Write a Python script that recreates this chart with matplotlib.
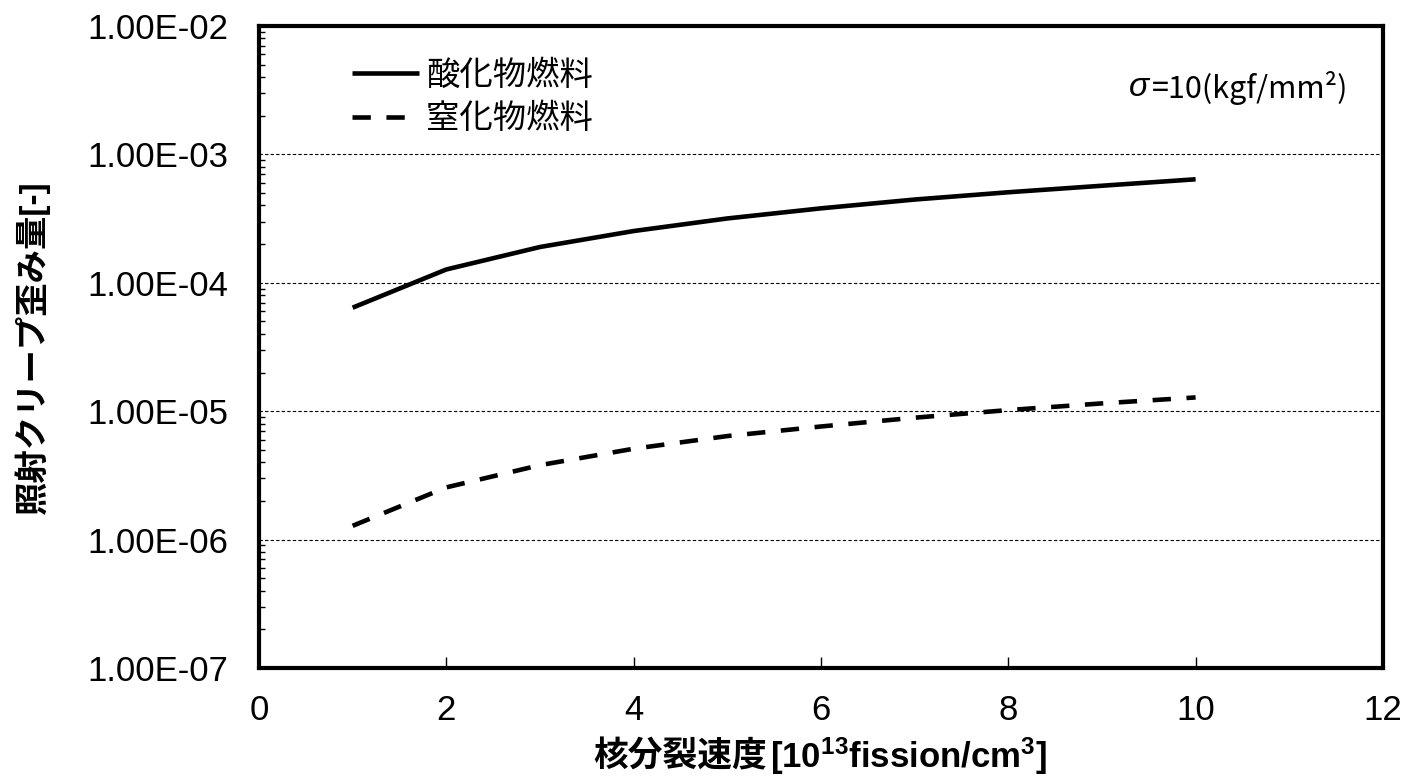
import numpy as np
import matplotlib.pyplot as plt
from matplotlib.ticker import FuncFormatter, LogLocator, MultipleLocator

plt.rcParams['font.family'] = ['Liberation Sans', 'Noto Sans CJK JP', 'DejaVu Sans']
plt.rcParams['mathtext.default'] = 'regular'

# data
fission_rate = [1, 2, 3, 4, 5, 6, 7, 8, 9, 10]
oxide_strain = [6.4e-5, 1.27e-4, 1.9e-4, 2.53e-4, 3.17e-4, 3.8e-4, 4.45e-4, 5.07e-4, 5.7e-4, 6.4e-4]
nitride_strain = [1.28e-6, 2.55e-6, 3.8e-6, 5.1e-6, 6.4e-6, 7.6e-6, 8.9e-6, 1.02e-5, 1.15e-5, 1.28e-5]
series_labels = ['酸化物燃料', '窒化物燃料']

fig = plt.figure(figsize=(14.09, 7.76), dpi=100)
ax = fig.add_axes([0.1838, 0.1392, 0.7977, 0.8273])

ax.plot(fission_rate, oxide_strain, color='black', lw=3.3, solid_capstyle='butt',
        label=series_labels[0])
ax.plot(fission_rate, nitride_strain, color='black', lw=3.3, dashes=(4.0, 3.4),
        dash_capstyle='butt', label=series_labels[1])

ax.set_yscale('log')
ax.set_xlim(0, 12)
ax.set_ylim(1e-7, 1e-2)
ax.xaxis.set_major_locator(MultipleLocator(2))
ax.yaxis.set_major_locator(LogLocator(base=10))
ax.yaxis.set_minor_locator(LogLocator(base=10, subs=np.arange(2, 10)))
ax.yaxis.set_minor_formatter(FuncFormatter(lambda v, p: ''))

def sci_fmt(v, pos):
    m, e = f'{v:.2E}'.split('E')
    return f'{m}E{int(e):+03d}'.replace('+', '')

ax.yaxis.set_major_formatter(FuncFormatter(sci_fmt))

for s in ax.spines.values():
    s.set_linewidth(3)

ax.tick_params(axis='x', which='major', direction='in', length=8, width=1,
               labelsize=25, pad=19, top=False)
ax.tick_params(axis='y', which='major', direction='in', length=0, width=1,
               labelsize=25, pad=22, right=False)
ax.tick_params(axis='y', which='minor', direction='in', length=4, width=1, right=False)

for yv in [1e-3, 1e-4, 1e-5, 1e-6]:
    ax.axhline(yv, color='black', lw=0.8, dashes=(3, 2), zorder=0)

# y label
ax.set_ylabel('照射クリープ歪み量[-]', fontsize=24, fontweight='bold')
ax.yaxis.set_label_coords(-0.186, 0.5)

# x label: CJK part and latin part side by side
t1 = fig.text(767 / 1409, 0.026, '核分裂速度', ha='right', va='center',
              fontsize=25, fontweight='bold', family=['Noto Sans CJK JP'])
ax.annotate('[10$^{13}$fission/cm$^{3}$]', xy=(1, 0.5), xycoords=t1,
            xytext=(3, 0), textcoords='offset pixels', ha='left', va='center',
            fontsize=25, fontweight='bold', family=['Liberation Sans'])

leg = ax.legend(loc='upper left', bbox_to_anchor=(0.0827, 0.95), frameon=False,
                prop={'family': ['Noto Sans CJK JP'], 'size': 24},
                handlelength=2.0, handletextpad=0.22, labelspacing=0.25,
                borderpad=0, borderaxespad=0)

# stress annotation
t2 = fig.text(1348 / 1409, (776 - 88) / 776, '=10(kgf/mm²)', ha='right', va='center',
              fontsize=22, family=['Noto Sans CJK JP'])
ax.annotate('σ', xy=(0, 0.5), xycoords=t2, xytext=(-2, 0), textcoords='offset pixels',
            ha='right', va='center', fontsize=24, style='italic',
            family=['Liberation Sans'])

fig.savefig('out.png', dpi=100)
